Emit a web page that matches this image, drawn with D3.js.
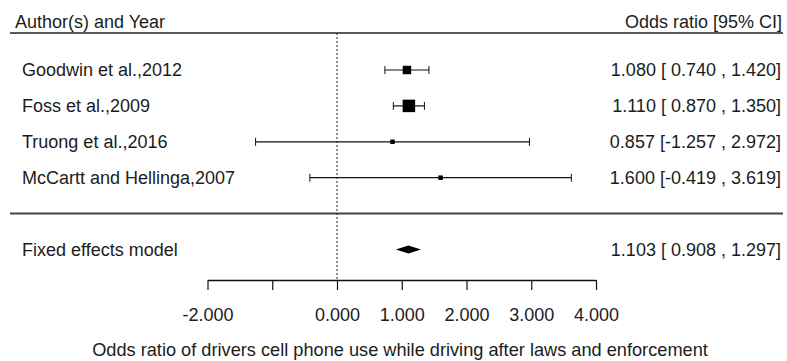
<!DOCTYPE html>
<html>
<head>
<meta charset="utf-8">
<script src="https://cdn.jsdelivr.net/npm/d3@7"></script>
<style>
body { margin:0; background:#fff; }
text { font-family:"Liberation Sans", Arial, sans-serif; font-size:18px; fill:#1c1c1c; }
</style>
</head>
<body>
<svg id="chart" width="787" height="361"></svg>
<script>
// study data
var studies = ["Goodwin et al.,2012","Foss et al.,2009","Truong et al.,2016","McCartt and Hellinga,2007"];
var estimate = [1.080, 1.110, 0.857, 1.600];
var lower = [0.740, 0.870, -1.257, -0.419];
var upper = [1.420, 1.350, 2.972, 3.619];

var pooledLabel = "Fixed effects model";
var pooled = {est:1.103, lo:0.908, hi:1.297};

var tickValues = [-2, -1, 0, 1, 2, 3, 4];
var xTitle = "Odds ratio of drivers cell phone use while driving after laws and enforcement";

// plain hyphen for negatives, like the original
var fmt = function(v) { return d3.format(".3f")(v).replace("\u2212", "-"); };
// pad positive CI bounds with a space
var pad = function(v) { return v < 0 ? fmt(v) : " " + fmt(v); };
var ciText = function(est, lo, hi) { return fmt(est) + " [" + pad(lo) + " , " + fmt(hi) + "]"; };

var svg = d3.select("#chart");

var xScale = d3.scaleLinear().domain([-2, 4]).range([207.5, 596]);
// row index -> y, study rows 0..3, pooled row 5
var yScale = d3.scaleLinear().domain([0, 5]).range([70, 249.5]);

// inverse variance weights -> square size
var weights = lower.map(function(l, i) {
    var se = (upper[i] - l) / 3.92;
    return 1 / (se * se);
});
var sizeScale = d3.scaleLinear().domain(d3.extent(weights)).range([4.5, 12.5]);

var rows = studies.map(function(s, i) {
    return {name:s, est:estimate[i], lo:lower[i], hi:upper[i], w:weights[i], row:i};
});

// header
svg.append("text").attr("x", 15).attr("y", 22).attr("dy", "0.35em").text("Author(s) and Year");
svg.append("text").attr("x", 782).attr("y", 22).attr("dy", "0.35em")
    .attr("text-anchor", "end").text("Odds ratio [95% CI]");
svg.append("line").attr("x1", 10).attr("x2", 783).attr("y1", 33).attr("y2", 33)
    .attr("stroke", "#222").attr("stroke-width", 1.5);

// separator above pooled estimate
svg.append("line").attr("x1", 10).attr("x2", 783)
    .attr("y1", yScale(4)).attr("y2", yScale(4))
    .attr("stroke", "#444").attr("stroke-width", 2);

// reference line at 0
svg.append("line").attr("x1", xScale(0)).attr("x2", xScale(0))
    .attr("y1", 33).attr("y2", 280)
    .attr("stroke", "#222").attr("stroke-dasharray", "2,2");

// study rows
var g = svg.append("g").selectAll("g").data(rows).enter().append("g");

g.append("text").attr("x", 22).attr("y", function(d) { return yScale(d.row); })
    .attr("dy", "0.35em").text(function(d) { return d.name; });

g.append("text").attr("x", 781).attr("y", function(d) { return yScale(d.row); })
    .attr("dy", "0.35em").attr("text-anchor", "end")
    .text(function(d) { return ciText(d.est, d.lo, d.hi); });

g.append("line")
    .attr("x1", function(d) { return xScale(d.lo); })
    .attr("x2", function(d) { return xScale(d.hi); })
    .attr("y1", function(d) { return yScale(d.row); })
    .attr("y2", function(d) { return yScale(d.row); })
    .attr("stroke", "#111").attr("stroke-width", 1.2);

// whisker end caps
[function(d) { return xScale(d.lo); }, function(d) { return xScale(d.hi); }].forEach(function(fx) {
    g.append("line")
        .attr("x1", fx).attr("x2", fx)
        .attr("y1", function(d) { return yScale(d.row) - 4; })
        .attr("y2", function(d) { return yScale(d.row) + 4; })
        .attr("stroke", "#111").attr("stroke-width", 1);
});

g.append("rect")
    .attr("x", function(d) { return xScale(d.est) - sizeScale(d.w) / 2; })
    .attr("y", function(d) { return yScale(d.row) - sizeScale(d.w) / 2; })
    .attr("width", function(d) { return sizeScale(d.w); })
    .attr("height", function(d) { return sizeScale(d.w); })
    .attr("fill", "#000");

// pooled estimate
var py = yScale(5);
svg.append("text").attr("x", 22).attr("y", py).attr("dy", "0.35em").text(pooledLabel);
svg.append("text").attr("x", 781).attr("y", py).attr("dy", "0.35em").attr("text-anchor", "end")
    .text(ciText(pooled.est, pooled.lo, pooled.hi));
svg.append("polygon")
    .attr("points", [
        [xScale(pooled.lo), py],
        [xScale(pooled.est), py - 4],
        [xScale(pooled.hi), py],
        [xScale(pooled.est), py + 4]
    ].map(function(p) { return p.join(","); }).join(" "))
    .attr("fill", "#000");

// x axis
var xAxis = d3.axisBottom(xScale)
    .tickValues(tickValues)
    .tickSize(10)
    .tickSizeOuter(0)
    .tickPadding(18)
    .tickFormat(function(d) { return d === -1 ? "" : fmt(d); });

var axis = svg.append("g").attr("transform", "translate(0,280)").call(xAxis);
axis.select(".domain").attr("stroke", "#111").attr("stroke-width", 1.5);
axis.selectAll(".tick line").attr("stroke", "#111").attr("stroke-width", 1.2);
axis.selectAll(".tick text").style("font-size", "18px").style("font-family", "Liberation Sans, Arial, sans-serif").attr("fill", "#1c1c1c");

svg.append("text").attr("x", 400).attr("y", 350).attr("dy", "0.35em")
    .attr("text-anchor", "middle").style("font-size", "18.2px").text(xTitle);
</script>
</body>
</html>
